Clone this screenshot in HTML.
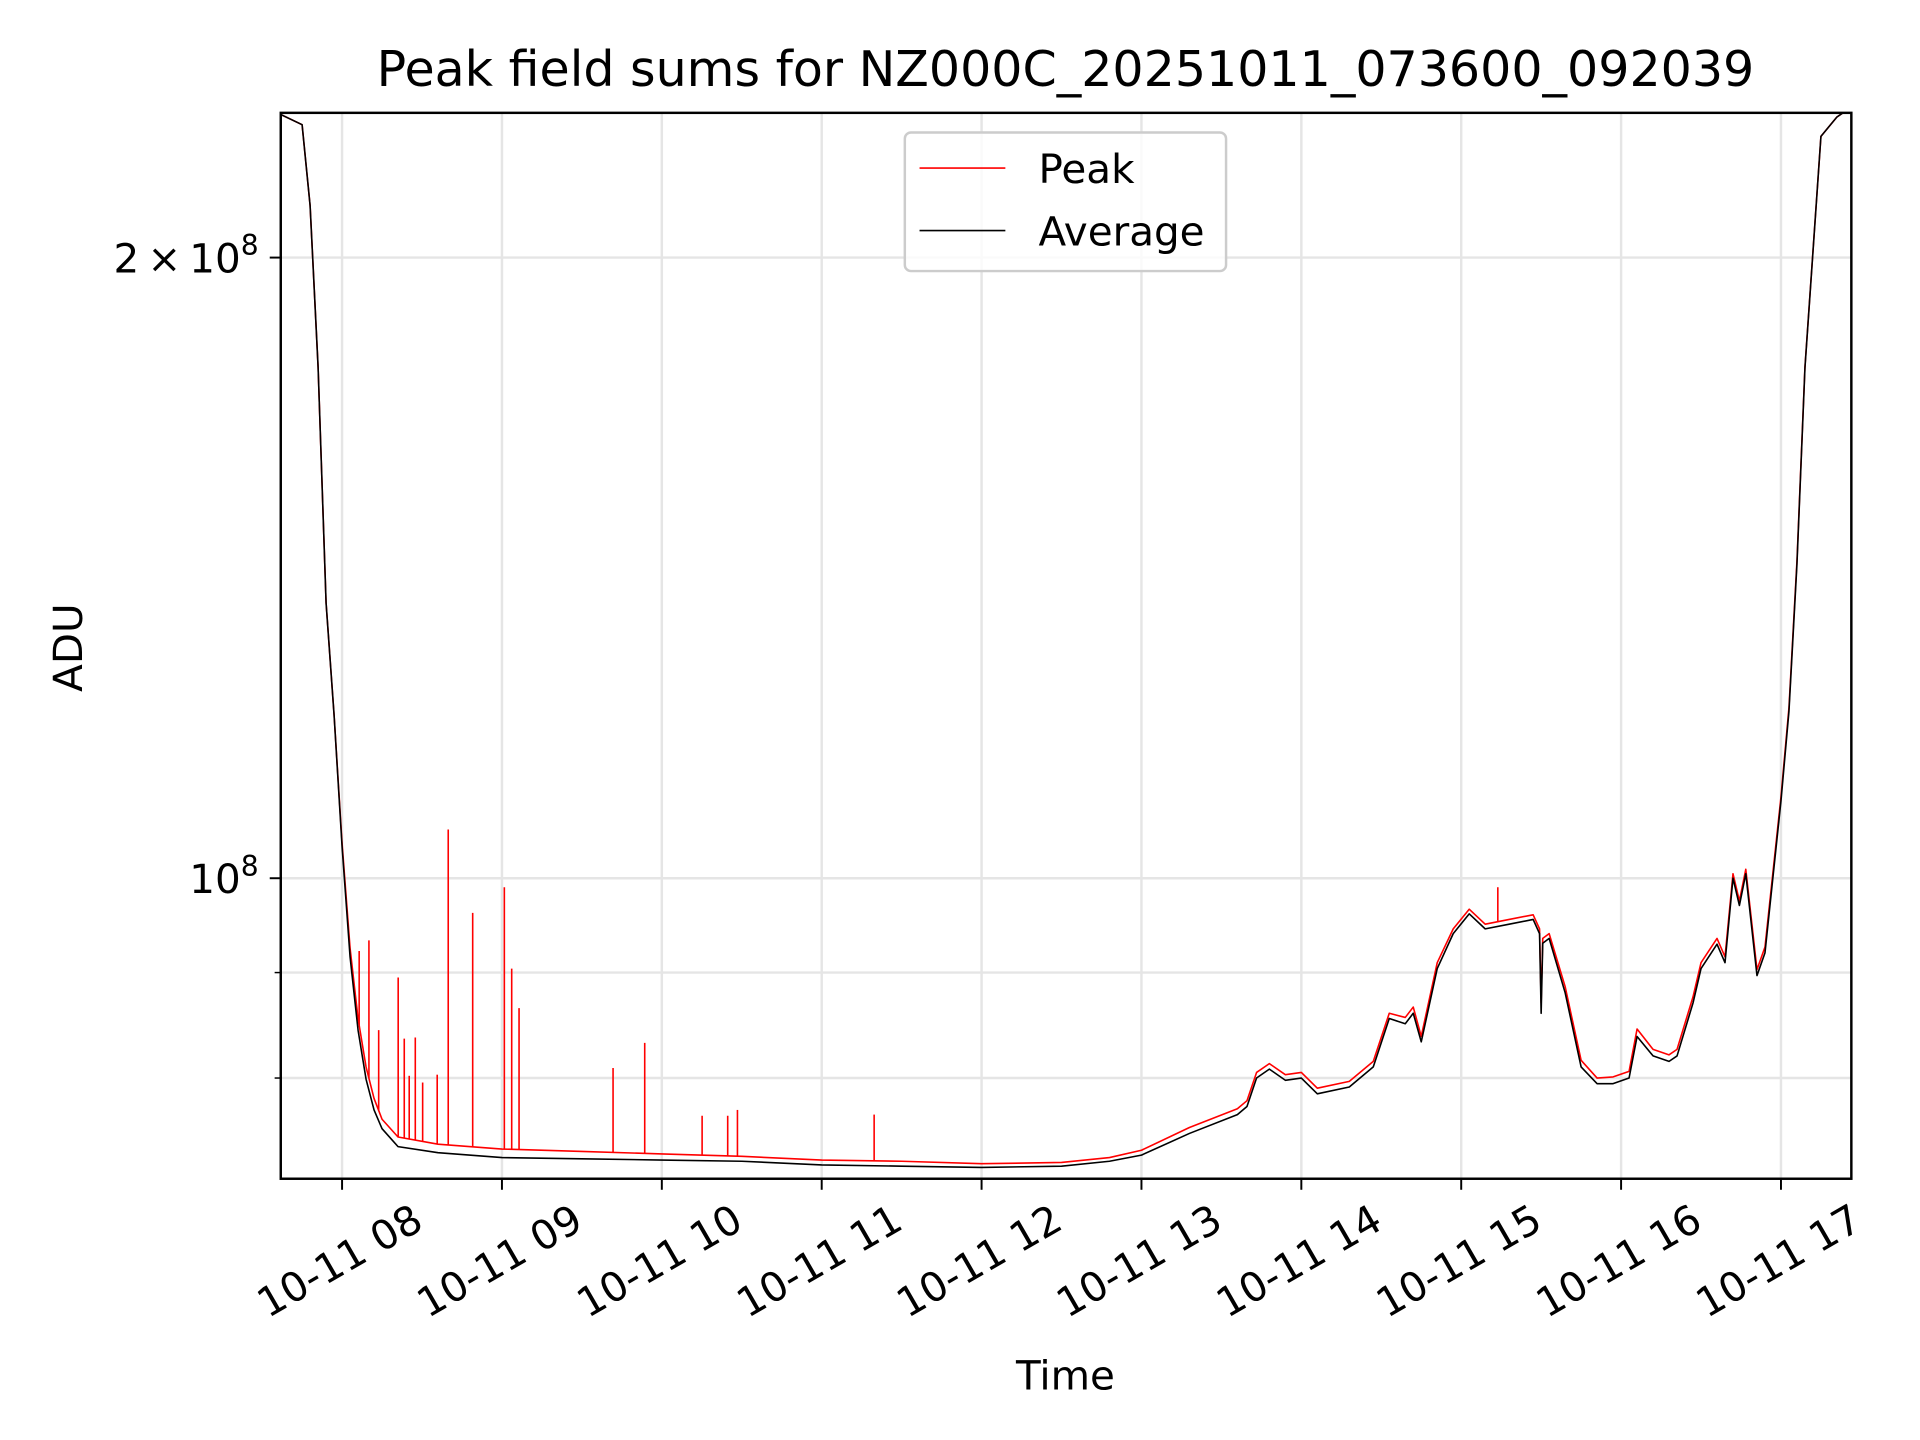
<!DOCTYPE html>
<html><head><meta charset="utf-8"><style>
html,body{margin:0;padding:0;background:#fff;}
svg{display:block;font-family:"DejaVu Sans","Liberation Sans",sans-serif;}
</style></head><body>
<svg id="chart" width="1920" height="1440" viewBox="0 0 1566 1174" preserveAspectRatio="none" xmlns="http://www.w3.org/2000/svg">
<rect x="0" y="0" width="1566" height="1174" fill="#fff"/>
<text x="869" y="70" font-size="40" text-anchor="middle">Peak field sums for NZ000C_20251011_073600_092039</text>
<g id="grid"></g>
<g id="series"></g>
<rect x="229" y="92" width="1281" height="869" fill="none" stroke="#000" stroke-width="2"/>
<g id="axes"></g>
<text x="0" y="0" font-size="33" text-anchor="middle" transform="translate(67,528) rotate(-90)">ADU</text>
<text x="869" y="1133" font-size="33" text-anchor="middle">Time</text>
<g>
<rect x="738" y="108" width="262" height="113" rx="5" fill="#fff" fill-opacity="0.8" stroke="#ccc" stroke-width="2"/>
<line x1="750" y1="137" x2="820" y2="137" stroke="red" stroke-width="1.3"/>
<text x="847" y="149" font-size="33">Peak</text>
<line x1="750" y1="188" x2="820" y2="188" stroke="#000" stroke-width="1.3"/>
<text x="847" y="200" font-size="33">Average</text>
</g>
</svg>
<script>
// data (time in decimal hours, values in units of 1e6 ADU)
const avgTimes = [7.6,7.75,7.8,7.85,7.9,7.95,8.0,8.05,8.1,8.15,8.2,8.25,8.35,8.6,9.0,9.5,10,10.5,11,11.5,12,12.5,12.8,13.0,13.3,13.6,13.66,13.72,13.8,13.9,14.0,14.1,14.3,14.45,14.55,14.65,14.7,14.75,14.85,14.95,15.05,15.15,15.3,15.45,15.49,15.5,15.51,15.55,15.65,15.75,15.85,15.95,16.05,16.1,16.2,16.3,16.35,16.45,16.5,16.6,16.65,16.7,16.74,16.78,16.85,16.9,17.0,17.05,17.1,17.15,17.25,17.35,17.42];
const avgValues = [235,232,212,177,136,120,103.6,91.6,84.4,79.9,77.2,75.6,74.1,73.6,73.2,73.1,73.0,72.9,72.6,72.5,72.4,72.5,72.9,73.4,75.2,76.8,77.5,80,80.8,79.8,80,78.6,79.2,81,85.5,85,86,83.3,90.4,94,96.1,94.5,95,95.5,94,86,93,93.5,88,81,79.5,79.5,80,83.8,82,81.5,82,87,90.4,92.9,91,100,97,100.5,89.7,92,109,120.5,142,176.8,229,234,236];
const peakTimes = [7.6,7.75,7.8,7.85,7.9,7.95,8.0,8.05,8.1,8.15,8.2,8.25,8.35,8.6,9.0,9.5,10,10.5,11,11.5,12,12.5,12.8,13.0,13.3,13.6,13.66,13.72,13.8,13.9,14.0,14.1,14.3,14.45,14.55,14.65,14.7,14.75,14.85,14.95,15.05,15.15,15.3,15.45,15.49,15.5,15.51,15.55,15.65,15.75,15.85,15.95,16.05,16.1,16.2,16.3,16.35,16.45,16.5,16.6,16.65,16.7,16.74,16.78,16.85,16.9,17.0,17.05,17.1,17.15,17.25,17.35,17.42];
const peakValues = [235,232,212,177,136,120,104,92.5,85.5,81,78.2,76.4,74.9,74.3,73.9,73.7,73.5,73.3,73.0,72.9,72.7,72.8,73.2,73.8,75.7,77.3,78,80.5,81.3,80.3,80.5,79.1,79.7,81.5,86,85.6,86.6,83.8,91,94.5,96.6,95,95.5,96,94.5,87,93.5,94,88.6,81.6,80,80.1,80.6,84.5,82.6,82.1,82.6,87.6,91,93.5,91.6,100.5,97.5,101,90.3,92.6,109.5,121,142.5,177,229,234,236];
const spikeTimes = [8.107,8.168,8.229,8.351,8.389,8.42,8.458,8.504,8.595,8.664,8.817,9.015,9.061,9.107,9.695,9.893,10.252,10.412,10.473,11.328,15.229];
const spikeValues = [92.2,93.3,84.4,89.5,83.6,80.2,83.7,79.6,80.3,105.6,96.2,99.0,90.4,86.5,80.9,83.2,76.7,76.7,77.2,76.8,99.0];
const hourTicks = [8,9,10,11,12,13,14,15,16,17];
const hourLabels = ["10-11 08","10-11 09","10-11 10","10-11 11","10-11 12","10-11 13","10-11 14","10-11 15","10-11 16","10-11 17"];
const minorYTicks = [80,90];

const NS = "http://www.w3.org/2000/svg";
const X0 = 229, X1 = 1510, Y0 = 92, Y1 = 961;
const xScale = t => 279 + (t - 8) * 130.4;
const yScale = v => 716 - Math.log10(v / 100) / Math.log10(2) * 506;
function mk(tag, attrs, parent) {
  const e = document.createElementNS(NS, tag);
  for (const k in attrs) e.setAttribute(k, attrs[k]);
  parent.appendChild(e);
  return e;
}
const grid = document.getElementById('grid');
const axes = document.getElementById('axes');
const series = document.getElementById('series');

hourTicks.forEach((h, i) => {
  const x = xScale(h);
  const g = mk('line', {x1: x, y1: Y0, x2: x, y2: Y1, stroke: '#e5e5e5', 'stroke-width': 2}, grid);
  
  
  const t = mk('line', {x1: x, y1: Y1, x2: x, y2: Y1 + 9, stroke: '#000', 'stroke-width': 1.6}, axes);
  
  
  const lbl = mk('text', {x: 0, y: 0, 'font-size': 33, 'text-anchor': 'middle', 'dominant-baseline': 'central', transform: `translate(${x - 2},1028) rotate(-30)`}, axes);
  lbl.textContent = hourLabels[i];
  
  
});

[100, 200].forEach(v => {
  const y = yScale(v);
  const g = mk('line', {x1: X0, y1: y, x2: X1, y2: y, stroke: '#e5e5e5', 'stroke-width': 2}, grid);
  
  
  const t = mk('line', {x1: X0 - 9, y1: y, x2: X0, y2: y, stroke: '#000', 'stroke-width': 1.6}, axes);
  
  
});
minorYTicks.forEach(v => {
  const y = yScale(v);
  const g = mk('line', {x1: X0, y1: y, x2: X1, y2: y, stroke: '#e5e5e5', 'stroke-width': 2}, grid);
  
  
  const t = mk('line', {x1: X0 - 5, y1: y, x2: X0, y2: y, stroke: '#000', 'stroke-width': 1.2}, axes);
  
  
});
const l2 = mk('text', {x: 211, y: yScale(200) + 12, 'font-size': 33, 'text-anchor': 'end'}, axes);
l2.innerHTML = '2\u2009\u00d7\u200910<tspan dy="-14" font-size="23">8</tspan>';


const l1 = mk('text', {x: 211, y: yScale(100) + 12, 'font-size': 33, 'text-anchor': 'end'}, axes);
l1.innerHTML = '10<tspan dy="-14" font-size="23">8</tspan>';



const clip = mk('clipPath', {id: 'pc'}, series);
mk('rect', {x: X0, y: Y0, width: X1 - X0, height: Y1 - Y0}, clip);
series.setAttribute('clip-path', 'url(#pc)');
const pk = mk('polyline', {points: peakTimes.map((t, i) => xScale(t) + ',' + yScale(peakValues[i])).join(' '), fill: 'none', stroke: 'red', 'stroke-width': 1.3, 'stroke-linejoin': 'round'}, series);


function interp(ts, vs, t) {
  for (let i = 1; i < ts.length; i++) if (t <= ts[i]) { const f = (t - ts[i-1]) / (ts[i] - ts[i-1]); return vs[i-1] + f * (vs[i] - vs[i-1]); }
  return vs[vs.length - 1];
}
spikeTimes.forEach((t, i) => {
  const x = xScale(t);
  const s = mk('line', {x1: x, y1: yScale(interp(peakTimes, peakValues, t)), x2: x, y2: yScale(spikeValues[i]), stroke: 'red', 'stroke-width': 1.3}, series);
  
  
});
const av = mk('polyline', {points: avgTimes.map((t, i) => xScale(t) + ',' + yScale(avgValues[i])).join(' '), fill: 'none', stroke: '#000', 'stroke-width': 1.3, 'stroke-linejoin': 'round'}, series);


</script>
</body></html>
